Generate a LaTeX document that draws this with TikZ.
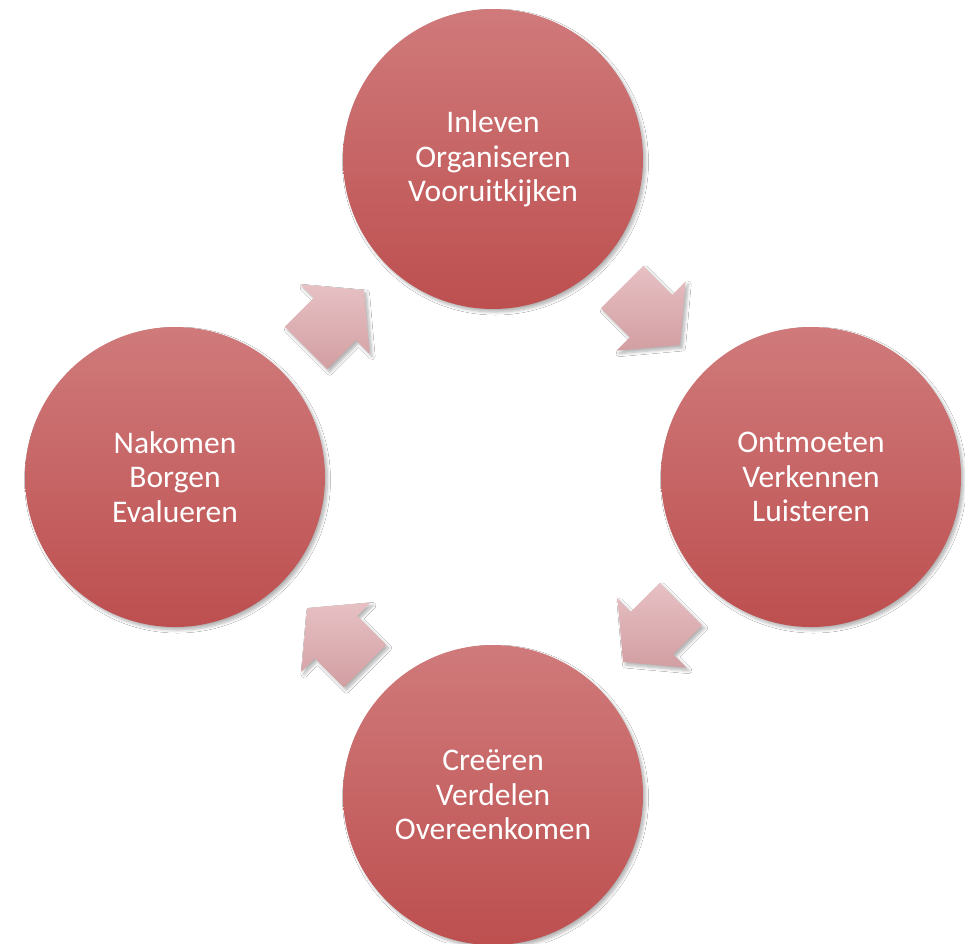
\documentclass[tikz,border=0pt]{standalone}
\usepackage{fontspec}
\setmainfont{Carlito}
\usetikzlibrary{calc,shadows.blur}
\definecolor{circtop}{RGB}{208,122,123}
\definecolor{circbot}{RGB}{189,79,79}
\definecolor{arrtop}{RGB}{231,193,196}
\definecolor{arrbot}{RGB}{210,158,162}
\tikzset{
  circ/.style={circle, minimum size=300pt, inner sep=0pt, align=center,
    top color=circtop, bottom color=circbot, draw=none, text=white,
    font=\fontsize{31.5}{34.5}\selectfont,
    blur shadow={shadow xshift=2.5pt, shadow yshift=-3pt, shadow blur radius=3pt, shadow blur steps=6, shadow opacity=30}},
  arrowsty/.style={top color=arrtop, bottom color=arrbot, draw=none,
    blur shadow={shadow xshift=2.5pt, shadow yshift=-3pt, shadow blur radius=3pt, shadow blur steps=6, shadow opacity=30}}
}
\newcommand\cyclearrow[2]{%
  \path[arrowsty] ($(#1)+(#2:-41)+(#2+90:30)$) -- ($(#1)+(#2+90:30)$)
    -- ($(#1)+(#2+90:49)$) -- ($(#1)+(#2:41)$) -- ($(#1)+(#2-90:49)$)
    -- ($(#1)+(#2-90:30)$) -- ($(#1)+(#2:-41)+(#2-90:30)$) -- cycle;}
\begin{document}
\begin{tikzpicture}[x=1pt,y=-1pt]
  \fill[white] (0,0) rectangle (965,943);
  \useasboundingbox (0,0) rectangle (965,943);
  \coordinate (a1) at (651,316);
  \coordinate (a2) at (652,633);
  \coordinate (a3) at (336,637);
  \coordinate (a4) at (335,319);
  \cyclearrow{a1}{45}
  \cyclearrow{a2}{135}
  \cyclearrow{a3}{225}
  \cyclearrow{a4}{315}
  \node[circ] (top) at (493,159) {Inleven\\Organiseren\\Vooruitkijken};
  \node[circ] (right) at (811,477) {Ontmoeten\\Verkennen\\Luisteren};
  \node[circ] (bottom) at (493,795) {Creëren\\Verdelen\\Overeenkomen};
  \node[circ] (left) at (175,477) {Nakomen\\Borgen\\Evalueren};
\end{tikzpicture}
\end{document}
